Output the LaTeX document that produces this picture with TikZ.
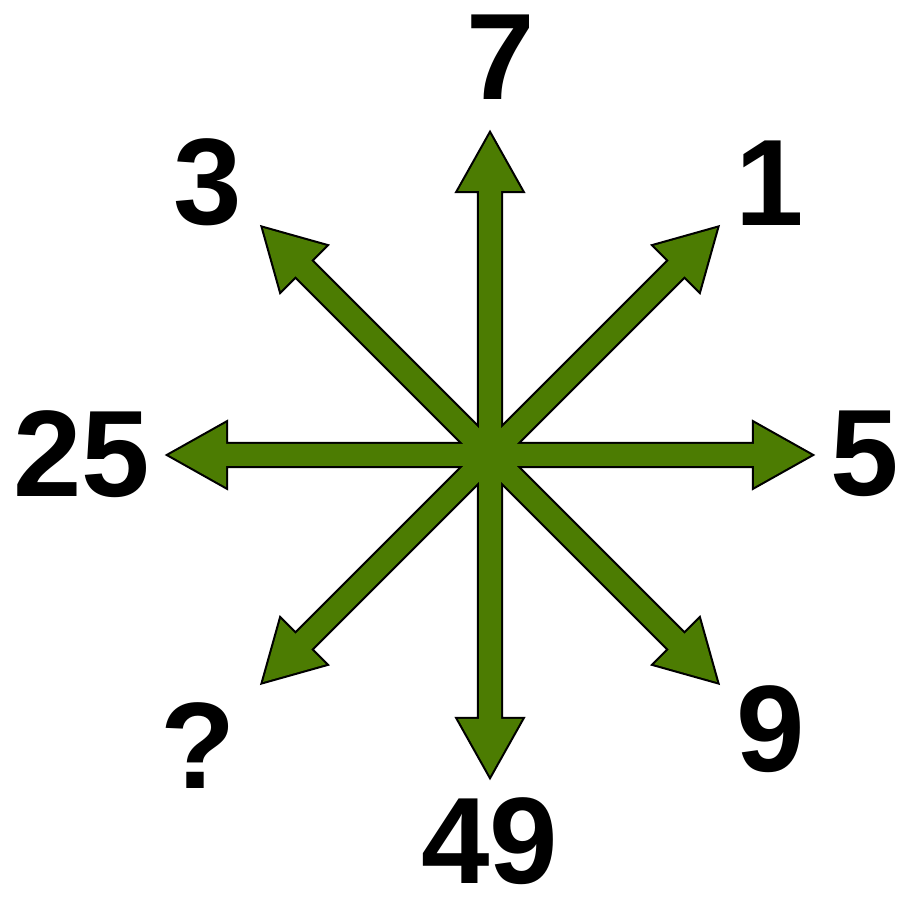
\documentclass[tikz,border=0pt]{standalone}
\usepackage{fontspec}
\setmainfont{Liberation Sans}
\usetikzlibrary{positioning}

\definecolor{leaf}{RGB}{76,124,2}

\begin{document}
\begin{tikzpicture}[
    x=0.02cm, y=0.02cm,
    num/.style={inner sep=0pt, font=\fontsize{70}{70}\selectfont\bfseries},
    rim/.style={draw=black, fill=leaf, line width=2.4pt, line join=miter},
    body/.style={fill=leaf}
]

% -------------------------
% Arrow shape (one spoke pointing along +x)
% -------------------------
\tikzset{
    spoke/.pic={
        \path[pic actions] (0,-11) -- (264,-11) -- (264,-32) -- (321,0)
            -- (264,32) -- (264,11) -- (0,11) -- cycle;
        \coordinate (-tip) at (321,0);
    }
}

\useasboundingbox (0,0) rectangle (901,901);

% -------------------------
% Hub of the star
% -------------------------
\coordinate (hub) at (490,446);

% -------------------------
% Spokes: black rim first, then green fill on top
% -------------------------
\foreach \a/\n in {0/E, 45/NE, 90/N, 135/NW, 180/W, 225/SW, 270/S, 315/SE} {
    \pic[rim, rotate=\a] (S\n) at (hub) {spoke};
}
\foreach \a in {0, 45, ..., 315} {
    \pic[body, rotate=\a] at (hub) {spoke};
}

% -------------------------
% Numbers round the star
% -------------------------
\node[num] (nN)  at (501,844) {7};
\node[num] (nNE) at (770,718) {1};
\node[num] (nE)  at (865,447) {5};
\node[num] (nSE) at (771,172) {9};
\node[num] (nS)  at (490,60)  {49};
\node[num] (nSW) at (198,155) {?};
\node[num] (nW)  at (82,447)  {25};
\node[num] (nNW) at (208,719) {3};

\end{tikzpicture}
\end{document}
